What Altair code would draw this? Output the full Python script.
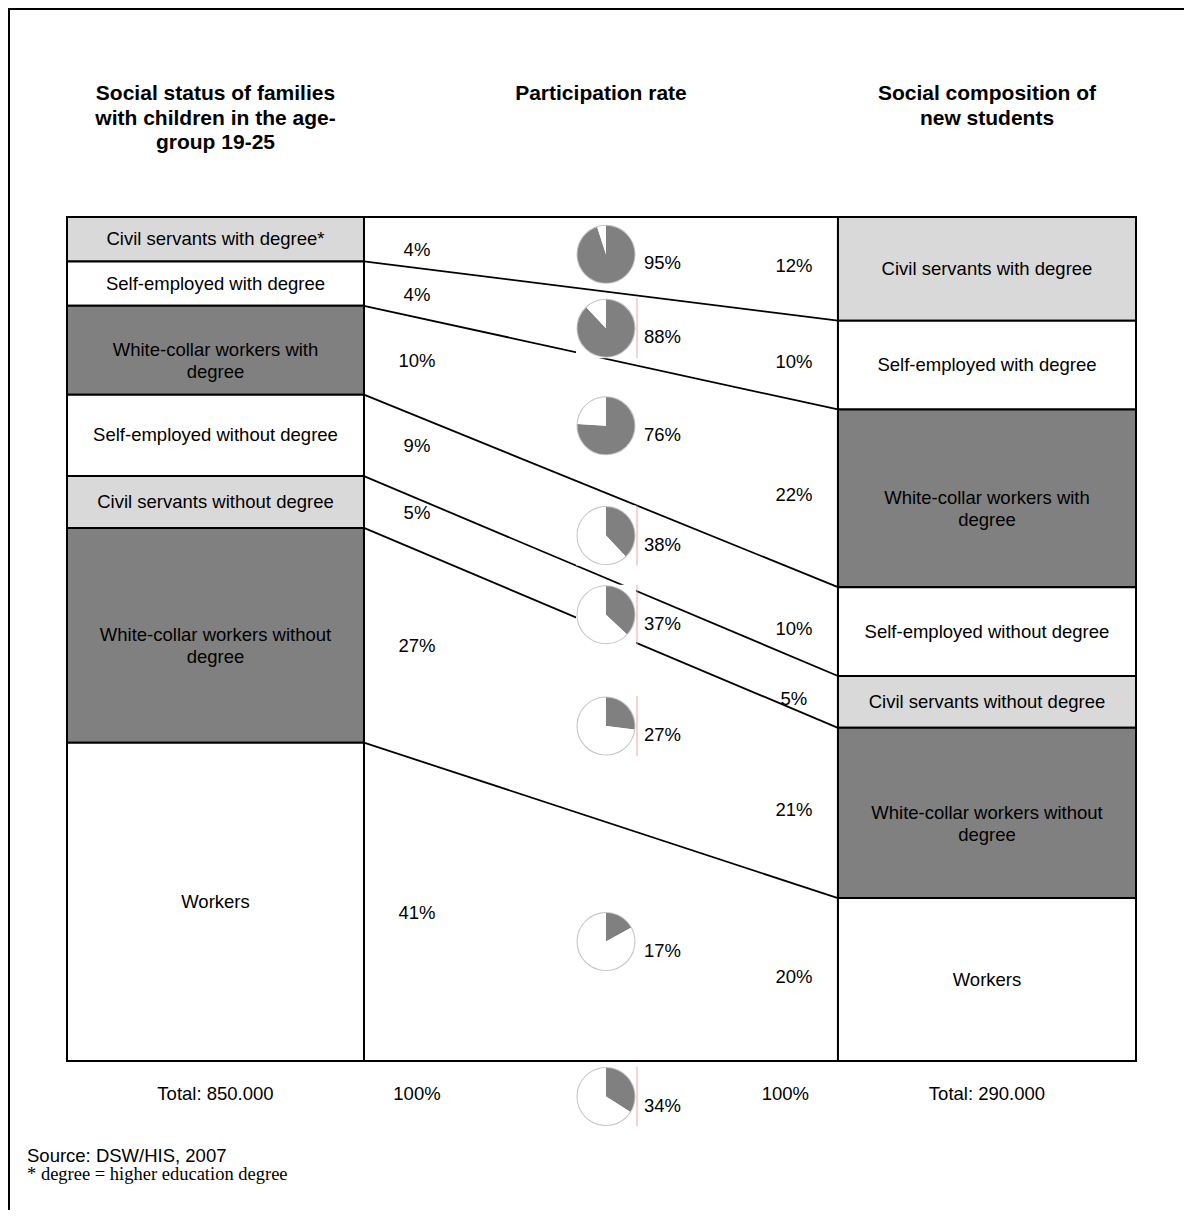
import math
import altair as alt
import pandas as pd

# ------------------------------------------------------------------ data
left_labels = [
    "Civil servants with degree*",
    "Self-employed with degree",
    "White-collar workers with degree",
    "Self-employed without degree",
    "Civil servants without degree",
    "White-collar workers without degree",
    "Workers",
]
right_labels = [
    "Civil servants with degree",
    "Self-employed with degree",
    "White-collar workers with degree",
    "Self-employed without degree",
    "Civil servants without degree",
    "White-collar workers without degree",
    "Workers",
]
groups = [
    "Civil servants", "Self-employed", "White-collar workers", "Self-employed",
    "Civil servants", "White-collar workers", "Workers",
]
families_share = [4, 4, 10, 9, 5, 27, 41]          # % of families (age-group 19-25)
participation_rate = [95, 88, 76, 38, 37, 27, 17]   # participation rate %
students_share = [12, 10, 22, 10, 5, 21, 20]        # % of new students
total_families_label = "Total: 850.000"
total_students_label = "Total: 290.000"
total_share = 100
total_rate = 34

header_left = ["Social status of families", "with children in the age-", "group 19-25"]
header_mid = ["Participation rate"]
header_right = ["Social composition of", "new students"]
source_note = "Source: DSW/HIS, 2007"
degree_note = "* degree = higher education degree"

# ------------------------------------------------------------------ layout / style
W, H = 1176, 1202
FONT = "Liberation Sans"
SERIF = "Liberation Serif"
FS = 18.5
BOX_PAD = 2.0                       # extra height units given to every box
N = len(families_share)
Y_MAX = sum(families_share) + N * BOX_PAD
X_SCALE = alt.Scale(domain=[0, 100], range=[59, 1128], nice=False, zero=False)
Y_SCALE = alt.Scale(domain=[0, Y_MAX], range=[209, 1053], nice=False, zero=False)
PX_PER_UNIT = (1053 - 209) / Y_MAX
COL_L = (0.0, 27.78)
COL_R = (72.12, 100.0)
COL_MID_C = (COL_L[1] + COL_R[0]) / 2
PIE_X = 50.42
PCT_L_X = 32.74
PCT_R_X = 68.0
PIE_R = 28.5
PIE_BOX = 60
TOTAL_ROW = Y_MAX + 4.8
EDGE_MARKED = [False, True, False, True, True, True, False, True]
GROUP_DOMAIN = ["Civil servants", "Self-employed", "White-collar workers", "Workers"]
GROUP_RANGE = ["#d9d9d9", "#ffffff", "#808080", "#ffffff"]


def X(f):
    return alt.X(f"{f}:Q", scale=X_SCALE, axis=None)


def Y(f):
    return alt.Y(f"{f}:Q", scale=Y_SCALE, axis=None)


def wrap(s, limit=30):
    if len(s) <= limit:
        return s
    parts = s.split(" ")
    return " ".join(parts[:-1]) + "\n" + parts[-1]


def cumulative(shares):
    out = [0.0]
    for s in shares:
        out.append(out[-1] + s + BOX_PAD)
    return out


Lc = cumulative(families_share)
Rc = cumulative(students_share)

# boxes
rows = []
for i in range(N):
    rows.append(dict(x0=COL_L[0], x1=COL_L[1], y0=Lc[i], y1=Lc[i + 1], group=groups[i],
                     label=wrap(left_labels[i]), xc=(COL_L[0] + COL_L[1]) / 2,
                     yc=(Lc[i] + Lc[i + 1]) / 2, pct=f"{families_share[i]}%", px=PCT_L_X))
for i in range(N):
    rows.append(dict(x0=COL_R[0], x1=COL_R[1], y0=Rc[i], y1=Rc[i + 1], group=groups[i],
                     label=wrap(right_labels[i]), xc=(COL_R[0] + COL_R[1]) / 2,
                     yc=(Rc[i] + Rc[i + 1]) / 2, pct=f"{students_share[i]}%", px=PCT_R_X))
boxes = pd.DataFrame(rows)
left_boxes = boxes.iloc[:N]
right_boxes = boxes.iloc[N:]

middle = pd.DataFrame([dict(x0=COL_L[1], x1=COL_R[0], y0=0, y1=Y_MAX)])

# connectors
links = pd.DataFrame([dict(x=COL_L[1], x2=COL_R[0], y=Lc[k], y2=Rc[k]) for k in range(1, N)])

# pies: centred in the band between connectors, kept clear of the upper connector
f = (PIE_X - COL_L[1]) / (COL_R[0] - COL_L[1])
pie_rows = []
for i in range(N):
    up = Lc[i] + f * (Rc[i] - Lc[i])
    lo = Lc[i + 1] + f * (Rc[i + 1] - Lc[i + 1])
    yc = max((up + lo) / 2, up + (PIE_R + 8) / PX_PER_UNIT) if i > 0 else (up + lo) / 2
    pie_rows.append(dict(x=PIE_X, y=yc, rate=participation_rate[i]))
pie_rows.append(dict(x=PIE_X, y=TOTAL_ROW, rate=total_rate))
pies = pd.DataFrame(pie_rows)
pies["label"] = pies["rate"].map(lambda r: f"{r}%")
pies["edge"] = EDGE_MARKED
pies["ex"] = pies["x"] + 31 / 10.69
pies["ey0"] = pies["y"] - 30 / PX_PER_UNIT
pies["ey1"] = pies["y"] + 30 / PX_PER_UNIT

slices = []
for _, p in pies.iterrows():
    a = 2 * math.pi * p["rate"] / 100
    slices.append(dict(x=p["x"], y=p["y"], t0=0.0, t1=a, part="rate"))
    slices.append(dict(x=p["x"], y=p["y"], t0=a, t1=2 * math.pi, part="rest"))
slices = pd.DataFrame(slices)

totals = pd.DataFrame([
    dict(x=(COL_L[0] + COL_L[1]) / 2, y=TOTAL_ROW, text=total_families_label),
    dict(x=PCT_L_X, y=TOTAL_ROW, text=f"{total_share}%"),
    dict(x=PCT_R_X - 0.8, y=TOTAL_ROW, text=f"{total_share}%"),
    dict(x=(COL_R[0] + COL_R[1]) / 2, y=TOTAL_ROW, text=total_students_label),
])

headers = pd.DataFrame([
    dict(x=(COL_L[0] + COL_L[1]) / 2, text="\n".join(header_left)),
    dict(x=COL_MID_C, text="\n".join(header_mid)),
    dict(x=(COL_R[0] + COL_R[1]) / 2, text="\n".join(header_right)),
])
one = pd.DataFrame([dict(a=1)])

# ------------------------------------------------------------------ layers
frame_top = alt.Chart(one).mark_rule(color="black", strokeWidth=2).encode(
    x=alt.value(0), x2=alt.value(W), y=alt.value(1))
frame_left = alt.Chart(one).mark_rule(color="black", strokeWidth=2).encode(
    y=alt.value(0), y2=alt.value(H), x=alt.value(1))

middle_rect = alt.Chart(middle).mark_rect(fill="white", stroke="black", strokeWidth=2).encode(
    x=X("x0"), x2="x1", y=Y("y0"), y2="y1")

box_rects = alt.Chart(boxes).mark_rect(stroke="black", strokeWidth=2).encode(
    x=X("x0"), x2="x1", y=Y("y0"), y2="y1",
    fill=alt.Fill("group:N", scale=alt.Scale(domain=GROUP_DOMAIN, range=GROUP_RANGE), legend=None))

link_rules = alt.Chart(links).mark_rule(color="black", strokeWidth=1.8).encode(
    x=X("x"), x2="x2", y=Y("y"), y2="y2")

pie_backs = alt.Chart(pies).mark_square(size=PIE_BOX * PIE_BOX, color="white", opacity=1,
                                        strokeWidth=0).encode(x=X("x"), y=Y("y"))

edge_rules = alt.Chart(pies[pies["edge"]]).mark_rule(color="#f4a3a3", strokeWidth=1).encode(
    x=X("ex"), y=Y("ey0"), y2="ey1")

# Vega circle symbols have diameter sqrt(size)
pie_outline = alt.Chart(pies).mark_point(shape="circle", filled=False, opacity=1,
                                         size=(2 * PIE_R) ** 2, stroke="#c4c4c4",
                                         strokeWidth=2).encode(x=X("x"), y=Y("y"))

pie_arcs = alt.Chart(slices).mark_arc(radius=PIE_R).encode(
    x=X("x"), y=Y("y"),
    theta=alt.Theta("t0:Q", scale=None, stack=False), theta2="t1:Q",
    fill=alt.Fill("part:N", scale=alt.Scale(domain=["rate", "rest"], range=["#808080", "#ffffff"]),
                  legend=None))

pie_labels = alt.Chart(pies).mark_text(font=FONT, fontSize=FS, align="left", baseline="middle",
                                       dx=38, dy=9, color="black").encode(
    x=X("x"), y=Y("y"), text="label:N")

box_labels = alt.Chart(boxes).mark_text(font=FONT, fontSize=FS, align="center", baseline="middle",
                                        lineBreak="\n", lineHeight=22, color="black").encode(
    x=X("xc"), y=Y("yc"), text="label:N")

pct_left = alt.Chart(left_boxes).mark_text(font=FONT, fontSize=FS, align="center", baseline="middle",
                                           dy=11, color="black").encode(
    x=X("px"), y=Y("yc"), text="pct:N")
pct_right = alt.Chart(right_boxes).mark_text(font=FONT, fontSize=FS, align="center",
                                             baseline="middle", dy=-3, color="black").encode(
    x=X("px"), y=Y("yc"), text="pct:N")

total_text = alt.Chart(totals).mark_text(font=FONT, fontSize=FS, align="center", baseline="middle",
                                         dy=-3, color="black").encode(
    x=X("x"), y=Y("y"), text="text:N")

header_text = alt.Chart(headers).mark_text(font=FONT, fontSize=21, fontWeight="bold",
                                           align="center", baseline="alphabetic", lineBreak="\n",
                                           lineHeight=24.5, color="black").encode(
    x=X("x"), y=alt.value(92), text="text:N")

src_text = alt.Chart(one).mark_text(font=FONT, fontSize=FS, align="left", baseline="alphabetic",
                                    color="black").encode(
    x=alt.value(19), y=alt.value(1154), text=alt.value(source_note))
deg_text = alt.Chart(one).mark_text(font=SERIF, fontSize=FS, align="left", baseline="alphabetic",
                                    color="black").encode(
    x=alt.value(19), y=alt.value(1172), text=alt.value(degree_note))

chart = alt.layer(
    middle_rect, box_rects, link_rules, pie_backs, edge_rules, pie_outline, pie_arcs,
    pie_labels, box_labels, pct_left, pct_right, total_text, header_text, src_text, deg_text,
    frame_top, frame_left,
).resolve_scale(
    fill="independent"
).properties(
    width=W, height=H, autosize=alt.AutoSizeParams(type="none"), padding=0
).configure_view(strokeWidth=0)

chart.save("out.html", embed_options={"renderer": "svg", "actions": False})
